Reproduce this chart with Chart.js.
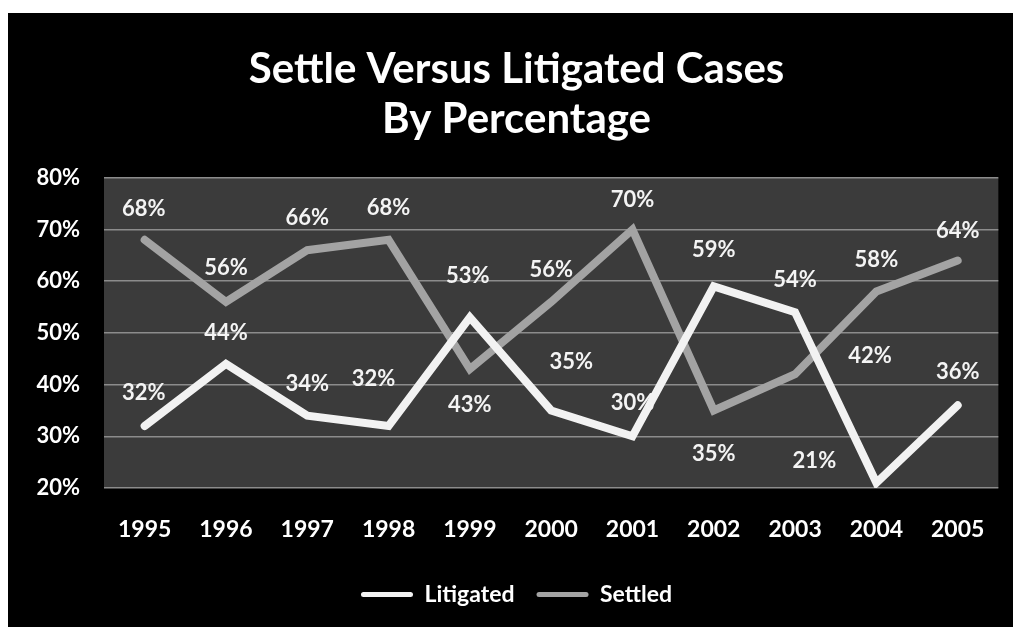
<!DOCTYPE html>
<html>
<head>
<meta charset="utf-8">
<title>Settle Versus Litigated Cases</title>
<script src="https://cdn.jsdelivr.net/npm/chart.js@4/dist/chart.umd.min.js"></script>
<style>
  html, body { margin: 0; padding: 0; background: #ffffff; }
  #wrap { position: absolute; left: 8px; top: 13px; width: 1005px; height: 614px; background: #000000; }
  canvas { display: block; }
</style>
</head>
<body>
<div id="wrap"><canvas id="chart" width="1005" height="614"></canvas></div>
<script>
// Years on the category axis
const years = ['1995', '1996', '1997', '1998', '1999', '2000', '2001', '2002', '2003', '2004', '2005'];
// Share of cases per year, in percent
const litigated = [32, 44, 34, 32, 53, 35, 30, 59, 54, 21, 36];
const settled   = [68, 56, 66, 68, 43, 56, 70, 35, 42, 58, 64];
// Value axis ticks, in percent
const yTicks = [20, 30, 40, 50, 60, 70, 80];

const FONT = "Lato, 'Open Sans', sans-serif";

// Where each value label sits relative to its point: [dx, dy] in pixels
const litigatedLabelShift = [[-1,-33],[0,-31],[0,-32],[-15,-47],[-2,-41],[20,-49],[0,-33],[0,-36],[0,-32],[-62,-22],[0,-33]];
const settledLabelShift   = [[-1,-31],[0,-34],[0,-32],[0,-32],[0,36],[0,-32],[0,-30],[0,43],[75,-18],[0,-32],[0,-30]];

// Dark panel behind the plotting area
const plotPanel = {
  id: 'plotPanel',
  beforeDraw(chart) {
    const { ctx, chartArea: a } = chart;
    ctx.save();
    ctx.fillStyle = '#3b3b3b';
    ctx.fillRect(a.left, a.top, a.right - a.left, a.bottom - a.top);
    ctx.restore();
  }
};

// Percentage labels next to every point
const valueLabels = {
  id: 'valueLabels',
  afterDatasetsDraw(chart, args, opts) {
    const ctx = chart.ctx;
    ctx.save();
    ctx.font = 'bold 22px ' + FONT;
    ctx.fillStyle = '#f4f4f4';
    ctx.textAlign = 'center';
    ctx.textBaseline = 'middle';
    chart.data.datasets.forEach((ds, di) => {
      const meta = chart.getDatasetMeta(di);
      const shifts = opts.shifts[di];
      meta.data.forEach((pt, i) => {
        const s = shifts[i];
        ctx.fillText(ds.data[i] + '%', pt.x + s[0], pt.y + s[1]);
      });
    });
    ctx.restore();
  }
};

new Chart(document.getElementById('chart'), {
  type: 'line',
  data: {
    labels: years,
    datasets: [
      {
        label: 'Litigated',
        data: litigated,
        borderColor: '#f2f2f2',
        backgroundColor: '#f2f2f2',
        borderWidth: 8,
        borderCapStyle: 'round',
        borderJoinStyle: 'miter',
        pointRadius: 0,
        tension: 0
      },
      {
        label: 'Settled',
        data: settled,
        borderColor: '#a3a3a3',
        backgroundColor: '#a3a3a3',
        borderWidth: 8,
        borderCapStyle: 'round',
        borderJoinStyle: 'miter',
        pointRadius: 0,
        tension: 0
      }
    ]
  },
  options: {
    responsive: false,
    animation: false,
    devicePixelRatio: 1,
    layout: { padding: { left: 26, right: 14, top: 0, bottom: 11 } },
    plugins: {
      title: {
        display: true,
        text: ['Settle Versus Litigated Cases', 'By Percentage'],
        color: '#ffffff',
        font: { family: FONT, size: 42, weight: 'bold', lineHeight: 1.2 },
        padding: { top: 31, bottom: 33 }
      },
      legend: {
        display: true,
        position: 'bottom',
        labels: {
          color: '#ffffff',
          font: { family: FONT, size: 23, weight: 'bold' },
          boxWidth: 52,
          boxHeight: 5,
          padding: 22,
          generateLabels(chart) {
            const items = Chart.defaults.plugins.legend.labels.generateLabels(chart);
            items.forEach(it => { it.lineWidth = 0; it.borderRadius = 2.5; });
            return items;
          }
        }
      },
      tooltip: { enabled: false },
      valueLabels: { shifts: [litigatedLabelShift, settledLabelShift] }
    },
    scales: {
      x: {
        offset: true,
        grid: { display: false, drawTicks: false },
        border: { display: false },
        ticks: {
          color: '#ffffff',
          font: { family: FONT, size: 23, weight: 'bold' },
          padding: 28,
          maxRotation: 0
        },
        afterFit(scale) { scale.height = 73; }
      },
      y: {
        min: yTicks[0],
        max: yTicks[yTicks.length - 1],
        grid: { color: '#8c8c8c', lineWidth: 1.5, drawTicks: false },
        border: { display: false },
        afterBuildTicks(scale) { scale.ticks = yTicks.map(v => ({ value: v })); },
        ticks: {
          color: '#ffffff',
          font: { family: FONT, size: 22, weight: 'bold' },
          padding: 24,
          callback: v => v + '%'
        },
        afterFit(scale) { scale.width = 70; }
      }
    }
  },
  plugins: [plotPanel, valueLabels]
});
</script>
</body>
</html>
